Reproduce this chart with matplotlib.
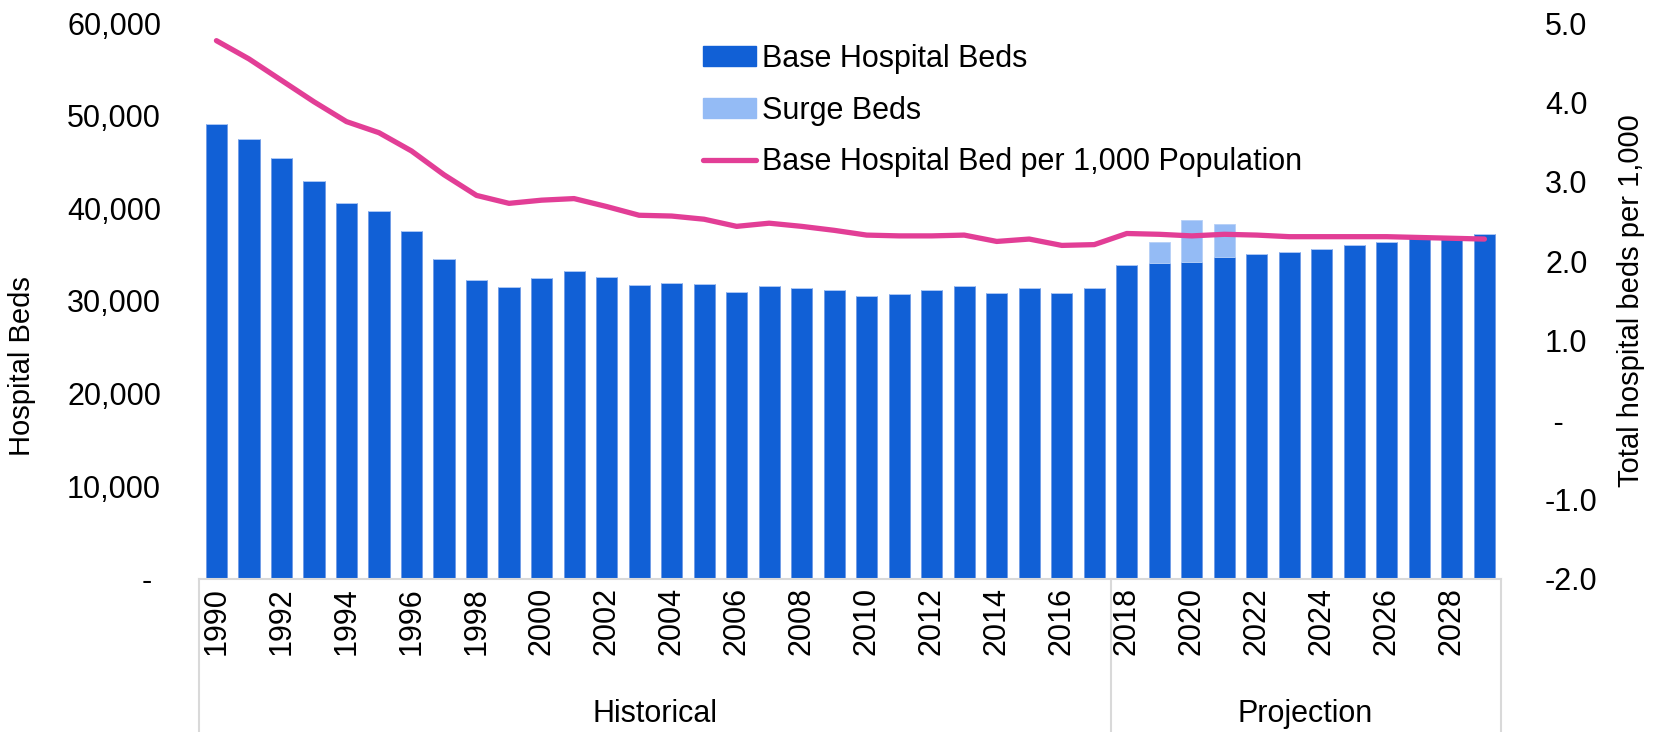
import numpy as np
import matplotlib
matplotlib.use('Agg')
import matplotlib.pyplot as plt
from matplotlib.patches import Patch
from matplotlib.lines import Line2D
import matplotlib.transforms as mtransforms

plt.rcParams['font.family'] = ['Liberation Sans', 'DejaVu Sans']

# data
years = list(range(1990, 2030))
base_beds = [49140, 47520, 45400, 42980, 40600, 39680, 37580, 34520, 32260, 31470,
             32440, 33200, 32610, 31720, 31950, 31790, 30990, 31610, 31430, 31140,
             30530, 30750, 31140, 31580, 30820, 31430, 30820, 31390, 33880, 34130,
             34240, 34740, 35030, 35250, 35640, 36000, 36390, 36760, 36900, 37200]
surge_beds = [0] * 29 + [2230, 4460, 3530] + [0] * 8
beds_per_1000 = [4.78, 4.55, 4.28, 4.01, 3.76, 3.62, 3.39, 3.09, 2.83, 2.73,
                 2.77, 2.79, 2.69, 2.58, 2.57, 2.53, 2.44, 2.48, 2.44, 2.39,
                 2.33, 2.32, 2.32, 2.33, 2.25, 2.28, 2.20, 2.21, 2.35, 2.34,
                 2.32, 2.34, 2.33, 2.31, 2.31, 2.31, 2.31, 2.30, 2.29, 2.28]
groups = ['Historical', 'Projection']
n_hist = 28  # 1990-2017

left_ticks = [0, 10000, 20000, 30000, 40000, 50000, 60000]
left_labels = ['- ', '10,000', '20,000', '30,000', '40,000', '50,000', '60,000']
right_ticks = [-2, -1, 0, 1, 2, 3, 4, 5]
right_labels = ['-2.0', '-1.0', ' -', '1.0', '2.0', '3.0', '4.0', '5.0']

base_col = '#1160D6'
surge_col = '#94BBF5'
line_col = '#E23E96'
grey = '#D9D9D9'
fs = 22

fig = plt.figure(figsize=(16.56, 7.32), dpi=100)
ax = fig.add_axes([0.1199, 0.2094, 0.9062 - 0.1199, 0.9683 - 0.2094])
ax2 = ax.twinx()

x = np.arange(len(years))
ax.bar(x, base_beds, width=0.65, color=base_col, edgecolor='#6f9ae6', linewidth=0.6)
ax.bar(x, surge_beds, width=0.65, bottom=base_beds, color=surge_col,
       edgecolor='#b5cff7', linewidth=0.6)
ax2.plot(x, beds_per_1000, color=line_col, lw=3.8, solid_capstyle='round',
         solid_joinstyle='round')

ax.set_xlim(-0.55, len(years) - 0.5)
ax.set_ylim(0, 60000)
ax2.set_ylim(-2, 5)

ax.set_yticks(left_ticks)
ax.set_yticklabels(left_labels, fontsize=fs)
ax2.set_yticks(right_ticks)
ax2.set_yticklabels(right_labels, fontsize=fs)
ax.tick_params(axis='y', length=0, pad=27)
ax2.tick_params(axis='y', length=0, pad=32)

ax.set_xticks(x[::2])
ax.set_xticklabels([str(y) for y in years[::2]], rotation=90, fontsize=fs)
ax.tick_params(axis='x', length=0, pad=6)

for a in (ax, ax2):
    for s in ['top', 'right', 'left']:
        a.spines[s].set_visible(False)
ax2.spines['bottom'].set_visible(False)
ax.spines['bottom'].set_color(grey)
ax.spines['bottom'].set_linewidth(1.5)

ax.set_ylabel('Hospital Beds', fontsize=21)
ax.yaxis.set_label_coords(-0.125, 0.383)
ax2.set_ylabel('Total hospital beds per 1,000', fontsize=21, labelpad=14)

# group box under the year labels
trans = mtransforms.blended_transform_factory(ax.transData, ax.transAxes)
for xv in [-0.55, n_hist - 0.5, len(years) - 0.5]:
    ax.plot([xv, xv], [0, -0.3], transform=trans, color=grey, lw=1.5, clip_on=False)
ax.text((-0.55 + n_hist - 0.5) / 2, -0.243, groups[0], transform=trans,
        ha='center', va='center', fontsize=fs)
ax.text((n_hist - 0.5 + len(years) - 0.5) / 2, -0.243, groups[1], transform=trans,
        ha='center', va='center', fontsize=fs)

handles = [Patch(color=base_col), Patch(color=surge_col),
           Line2D([0], [0], color=line_col, lw=3.8, solid_capstyle='round')]
labels = ['Base Hospital Beds', 'Surge Beds', 'Base Hospital Bed per 1,000 Population']
fig.legend(handles, labels, loc='upper left', bbox_to_anchor=(0.4246, 0.94),
           frameon=False, fontsize=fs, handlelength=1.73, handleheight=0.6,
           handletextpad=0.2, labelspacing=0.71, borderpad=0, borderaxespad=0)

fig.savefig('out.png', dpi=100)
